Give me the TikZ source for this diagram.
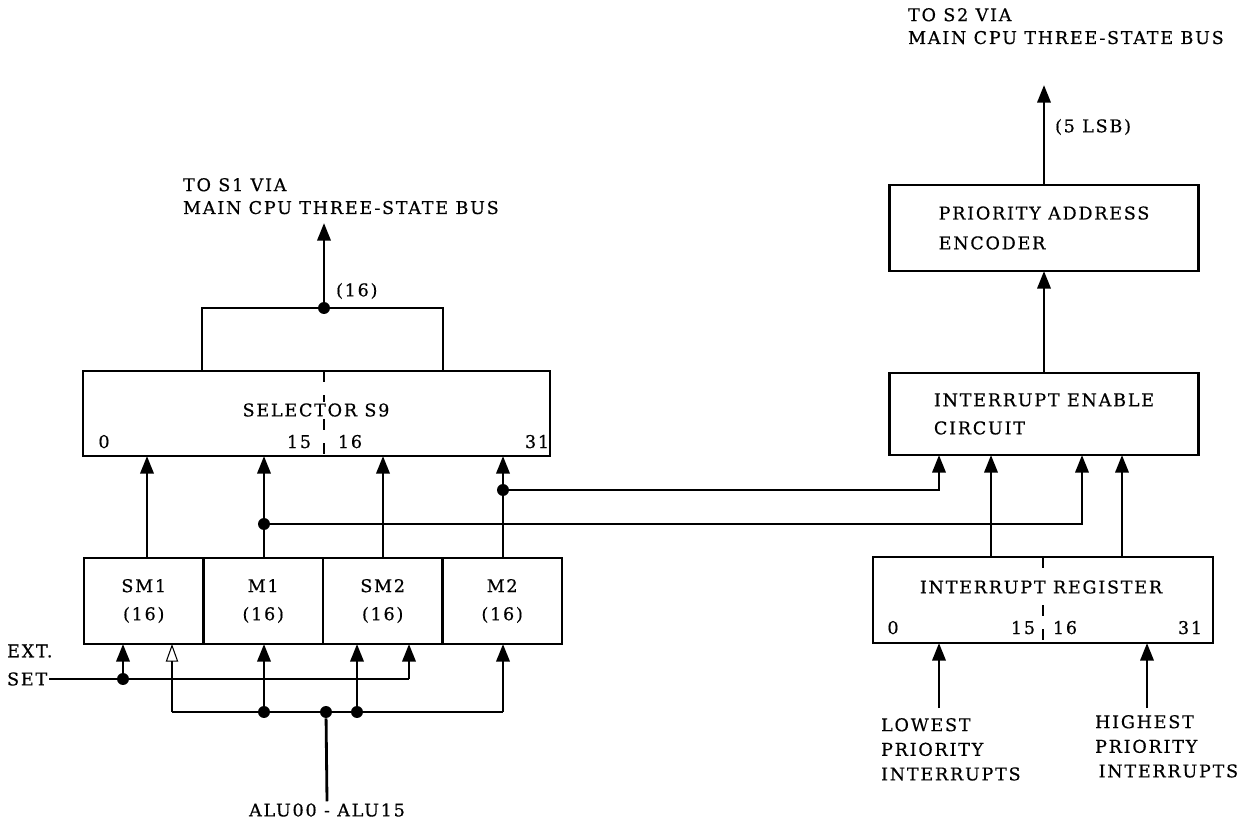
\documentclass[tikz,border=0pt]{standalone}
\usepackage{fontspec}
\setmainfont{DejaVu Serif}[LetterSpace=10, FakeBold=0.5]
\usetikzlibrary{arrows.meta,positioning,calc}

\tikzset{
  regbox/.style={
    rectangle, draw, line width=1.5pt,
    inner sep=0pt, outer sep=0pt, align=center
  },
  sigline/.style={line width=1.6pt},
  sigarrow/.style={
    -{Triangle[length=10pt,width=7.5pt]}, line width=1.6pt
  },
  thinarrow/.style={
    -{Triangle[open,length=10pt,width=7pt]}, line width=0.6pt
  },
  jdot/.style={circle, fill, inner sep=0pt, minimum size=6.8pt},
  lbl/.style={inner sep=1pt, align=left},
  bitlbl/.style={inner sep=0pt, anchor=base},
  midline/.style={line width=0.9pt, dash pattern=on 0.22cm off 0.26cm},
}

\begin{document}
\begin{tikzpicture}[x=0.02cm, y=-0.02cm]
\useasboundingbox (0,0) rectangle (1244,822);

% ---- selector S9 and its register row ----
\node[regbox, minimum width=9.34cm, minimum height=1.7cm] (sel) at (316.5,413.5) {};
\coordinate (selmid) at (324,0);
\draw[midline] (selmid |- sel.north) -- (selmid |- sel.south);
\node[lbl, fill=white] (seltitle) at (316,410) {SELECTOR S9};
\node[bitlbl] (sel0)  at (104,448) {0};
\node[bitlbl] (sel15) at (299,448) {15};
\node[bitlbl] (sel16) at (350,448) {16};
\node[bitlbl] (sel31) at (537,448) {31};

\node[regbox, minimum width=2.39cm, minimum height=1.72cm] (sm1) at (143.75,601) {SM1\\[4pt](16)};
\node[regbox, minimum width=2.39cm, minimum height=1.72cm, right=0pt of sm1] (m1) {M1\\[4pt](16)};
\node[regbox, minimum width=2.39cm, minimum height=1.72cm, right=0pt of m1] (sm2) {SM2\\[4pt](16)};
\node[regbox, minimum width=2.39cm, minimum height=1.72cm, right=0pt of sm2] (m2) {M2\\[4pt](16)};

% row -> selector
\foreach \n/\x in {a/147, b/264, c/383, d/503}
  \coordinate (up\n) at (\x,0);
\foreach \n/\r in {a/sm1, b/m1, c/sm2, d/m2}
  \draw[sigarrow] (up\n |- \r.north) -- (up\n |- sel.south);

% selector output
\coordinate (brl) at (202,308);
\coordinate (brr) at (443,308);
\node[jdot] (jout) at (324,308) {};
\draw[sigline] (brl |- sel.north) -- (brl) -- (brr) -- (brr |- sel.north);
\coordinate (s1tip) at (324,223);
\draw[sigarrow] (jout) -- (s1tip);
\node[lbl, anchor=west] (w16) at (334,291) {(16)};
\node[lbl, anchor=north west] (s1txt) at (181,176) {TO S1 VIA\\[1pt]MAIN CPU THREE-STATE BUS};

% EXT. SET
\node[lbl, anchor=west] (extlbl) at (5,651) {EXT.};
\node[lbl, anchor=west] (setlbl) at (5,679) {SET};
\node[jdot] (jset) at (123,679) {};
\coordinate (setend) at (409,679);
\draw[sigline] (setlbl.east) -- (jset) -- (setend);
\draw[sigarrow] (jset) -- (jset |- sm1.south);
\draw[sigarrow] (setend) -- (setend |- sm2.south);

% ALU bus
\coordinate (busl) at (172,712);
\coordinate (busr) at (503,712);
\draw[sigline] (busl) -- (busr);
\node[jdot] (jbm1)  at (264,712) {};
\node[jdot] (jalu)  at (326,712) {};
\node[jdot] (jbsm2) at (357,712) {};
\draw[thinarrow] (busl) -- (busl |- sm1.south);
\draw[sigarrow] (jbm1) -- (jbm1 |- m1.south);
\draw[sigarrow] (jbsm2) -- (jbsm2 |- sm2.south);
\draw[sigarrow] (busr) -- (busr |- m2.south);
\node[lbl] (alulbl) at (327,810) {ALU00 - ALU15};
\draw[sigline] (jalu) -- (alulbl.north);

% ---- interrupt side ----
\node[regbox, minimum width=6.18cm, minimum height=1.72cm, align=left] (pae) at (1044,228) {PRIORITY ADDRESS\\[5pt]ENCODER};
\node[regbox, minimum width=6.18cm, minimum height=1.64cm, align=left] (iec) at (1044,414) {INTERRUPT ENABLE\\[4pt]CIRCUIT};
\node[regbox, minimum width=6.8cm, minimum height=1.72cm] (ir) at (1043,600) {};
\coordinate (irmid) at (1043,0);
\draw[midline] (irmid |- ir.north) -- (irmid |- ir.south);
\node[lbl, fill=white] (irtitle) at (1041,587) {INTERRUPT REGISTER};
\node[bitlbl] (ir0)  at (893,634) {0};
\node[bitlbl] (ir15) at (1023,634) {15};
\node[bitlbl] (ir16) at (1065,634) {16};
\node[bitlbl] (ir31) at (1190,634) {31};

\draw[sigarrow] (iec) -- (pae);
\coordinate (s2tip) at (1044,85);
\draw[sigarrow] (pae) -- (s2tip);
\node[lbl, anchor=west] (lsb) at (1053,127) {(5 LSB)};
\node[lbl, anchor=north west] (s2txt) at (906,6) {TO S2 VIA\\[1pt]MAIN CPU THREE-STATE BUS};

% mask lines from the register row
\node[jdot] (jm1) at (264,524) {};
\node[jdot] (jm2) at (503,490) {};
\coordinate (iea) at (939,0);
\coordinate (iec3) at (1082,0);
\draw[sigarrow] (jm2) -- (jm2 -| iea) -- (iea |- iec.south);
\draw[sigarrow] (jm1) -- (jm1 -| iec3) -- (iec3 |- iec.south);

% register -> enable circuit
\coordinate (irb) at (991,0);
\coordinate (ird) at (1122,0);
\draw[sigarrow] (irb |- ir.north) -- (irb |- iec.south);
\draw[sigarrow] (ird |- ir.north) -- (ird |- iec.south);

% interrupt inputs
\coordinate (lowin) at (939,708);
\coordinate (highin) at (1147,708);
\draw[sigarrow] (lowin) -- (lowin |- ir.south);
\draw[sigarrow] (highin) -- (highin |- ir.south);
\node[lbl, anchor=north west] (lowlbl) at (879,716) {LOWEST\\[2pt]PRIORITY\\[2pt]INTERRUPTS};
\node[lbl, anchor=north west] (highlbl) at (1093,713) {HIGHEST\\[2pt]PRIORITY\\[2pt]\hspace{2pt}INTERRUPTS};

\end{tikzpicture}
\end{document}
